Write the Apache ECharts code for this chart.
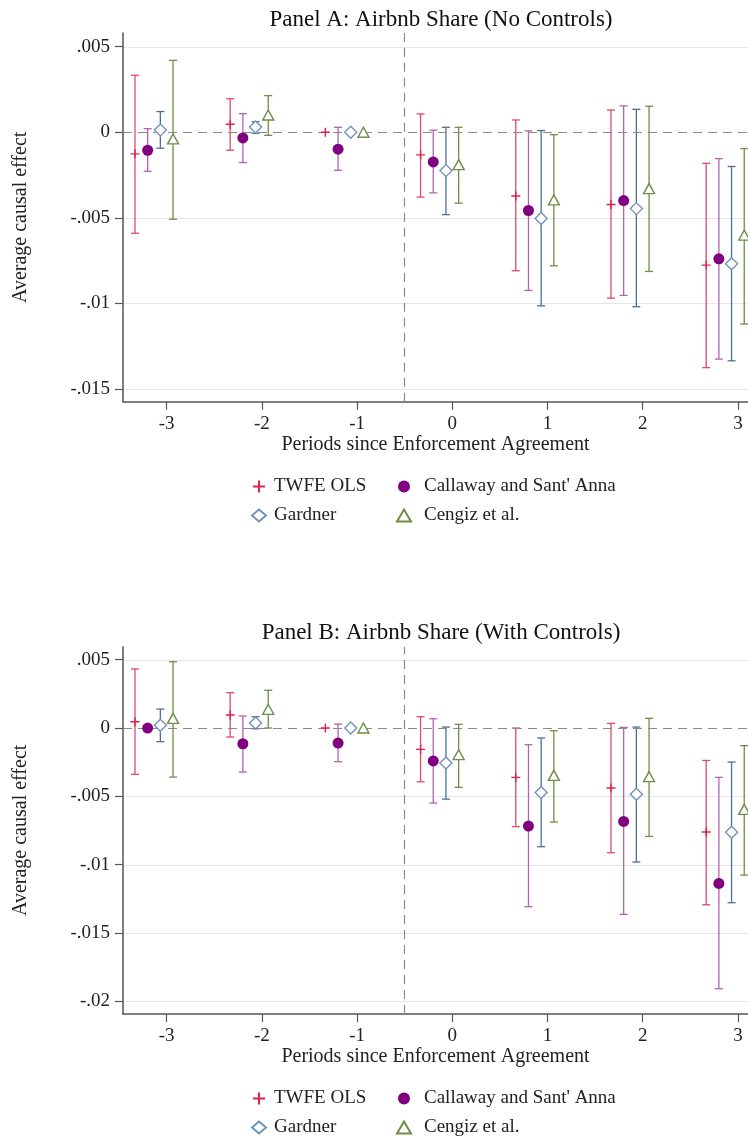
<!DOCTYPE html>
<html>
<head>
<meta charset="utf-8">
<script src="https://cdn.jsdelivr.net/npm/echarts@6/dist/echarts.min.js"></script>
<style>html,body{margin:0;padding:0;background:#fff}#c{width:748px;height:1137px}</style>
</head>
<body>
<div id="c"></div>
<script>
const periods = [-3, -2, -1, 0, 1, 2, 3];
const methods = ["TWFE OLS", "Callaway and Sant' Anna", "Gardner", "Cengiz et al."];
const yTicksA = [0.005, 0, -0.005, -0.01, -0.015];
const yTicksB = [0.005, 0, -0.005, -0.01, -0.015, -0.02];
const yTickLabels = {"0.005": ".005", "0": "0", "-0.005": "-.005", "-0.01": "-.01", "-0.015": "-.015", "-0.02": "-.02"};
const xTicks = [-3, -2, -1, 0, 1, 2, 3];

// Panel A
const A_twfe_est = [-0.00126, 0.00047, 0.00000, -0.00132, -0.00372, -0.00422, -0.00776];
const A_twfe_lo  = [-0.00590, -0.00105, null, -0.00379, -0.00809, -0.00969, -0.01375];
const A_twfe_hi  = [0.00333, 0.00196, null, 0.00107, 0.00072, 0.00130, -0.00181];
const A_cs_est   = [-0.00105, -0.00033, -0.00099, -0.00173, -0.00457, -0.00399, -0.00739];
const A_cs_lo    = [-0.00228, -0.00177, -0.00222, -0.00354, -0.00924, -0.00953, -0.01325];
const A_cs_hi    = [0.00021, 0.00109, 0.00029, 0.00012, 0.00008, 0.00154, -0.00154];
const A_gd_est   = [0.00014, 0.00031, 0.00000, -0.00224, -0.00504, -0.00446, -0.00768];
const A_gd_lo    = [-0.00093, -0.00006, null, -0.00481, -0.01014, -0.01019, -0.01335];
const A_gd_hi    = [0.00121, 0.00062, null, 0.00029, 0.00010, 0.00134, -0.00200];
const A_cg_est   = [-0.00039, 0.00101, 0.00000, -0.00189, -0.00395, -0.00329, -0.00601];
const A_cg_lo    = [-0.00508, -0.00018, null, -0.00414, -0.00780, -0.00813, -0.01120];
const A_cg_hi    = [0.00420, 0.00214, null, 0.00029, -0.00014, 0.00152, -0.00095];

// Panel B
const B_twfe_est = [0.00046, 0.00095, 0.00000, -0.00156, -0.00361, -0.00439, -0.00761];
const B_twfe_lo  = [-0.00339, -0.00066, null, -0.00393, -0.00722, -0.00912, -0.01293];
const B_twfe_hi  = [0.00432, 0.00259, null, 0.00083, 0.00000, 0.00034, -0.00237];
const B_cs_est   = [0.00000, -0.00115, -0.00110, -0.00241, -0.00717, -0.00683, -0.01137];
const B_cs_lo    = [null, -0.00322, -0.00246, -0.00549, -0.01307, -0.01363, -0.01907];
const B_cs_hi    = [null, 0.00088, 0.00029, 0.00068, -0.00122, 0.00005, -0.00361];
const B_gd_est   = [0.00020, 0.00037, 0.00000, -0.00256, -0.00471, -0.00485, -0.00763];
const B_gd_lo    = [-0.00100, -0.00005, null, -0.00520, -0.00868, -0.00980, -0.01278];
const B_gd_hi    = [0.00139, 0.00083, null, 0.00007, -0.00073, 0.00007, -0.00249];
const B_cg_est   = [0.00071, 0.00137, 0.00000, -0.00195, -0.00346, -0.00356, -0.00595];
const B_cg_lo    = [-0.00359, 0.00000, null, -0.00434, -0.00688, -0.00793, -0.01076];
const B_cg_hi    = [0.00485, 0.00276, null, 0.00027, -0.00020, 0.00071, -0.00129];

const panels = [
  {est: [A_twfe_est, A_cs_est, A_gd_est, A_cg_est], lo: [A_twfe_lo, A_cs_lo, A_gd_lo, A_cg_lo], hi: [A_twfe_hi, A_cs_hi, A_gd_hi, A_cg_hi], ticks: yTicksA},
  {est: [B_twfe_est, B_cs_est, B_gd_est, B_cg_est], lo: [B_twfe_lo, B_cs_lo, B_gd_lo, B_cg_lo], hi: [B_twfe_hi, B_cs_hi, B_gd_hi, B_cg_hi], ticks: yTicksB}
];

const dodge = [-1/3, -0.2, -1/15, 1/15];
const ciColors = ['#dc4a72', '#b462b4', '#4c7098', '#6e8f47'];
const FONT = 'Liberation Serif';

const markerStyles = [
  {symbol: 'path://M0,5H10M5,0V10', symbolSize: 9, itemStyle: {color: 'rgba(0,0,0,0)', borderColor: '#e0204e', borderWidth: 1.4, opacity: 1}},
  {symbol: 'circle', symbolSize: 11, itemStyle: {color: '#800080', borderWidth: 0, opacity: 1}},
  {symbol: 'diamond', symbolSize: [12, 12], itemStyle: {color: '#fff', borderColor: '#6f93b8', borderWidth: 1.4, opacity: 1}},
  {symbol: 'triangle', symbolSize: [11, 10], itemStyle: {color: '#fff', borderColor: '#6e8f47', borderWidth: 1.4, opacity: 1}}
];

const grids = [
  {left: 123, right: 0, top: 33, height: 368.7},
  {left: 123, right: 0, top: 646.7, height: 367.3}
];
const yRanges = [[-0.01574, 0.0058], [-0.02092, 0.00595]];
const xRange = [-3.459, 3.106];

const xAxes = [], yAxes = [], series = [];
panels.forEach((p, gi) => {
  xAxes.push({
    type: 'value', gridIndex: gi, min: xRange[0], max: xRange[1],
    name: 'Periods since Enforcement Agreement', nameLocation: 'middle', nameGap: 33,
    nameTextStyle: {fontFamily: FONT, fontSize: 20, color: '#222'},
    axisLine: {show: true, onZero: false, lineStyle: {color: '#555', width: 1.5}},
    axisTick: {show: true, length: 8, lineStyle: {color: '#555', width: 1.2}, customValues: xTicks},
    axisLabel: {customValues: xTicks, fontFamily: FONT, fontSize: 19, color: '#222', margin: 13, formatter: v => String(v)},
    splitLine: {show: false}
  });
  yAxes.push({
    type: 'value', gridIndex: gi, min: yRanges[gi][0], max: yRanges[gi][1],
    name: 'Average causal effect', nameLocation: 'middle', nameGap: 92,
    nameTextStyle: {fontFamily: FONT, fontSize: 20, color: '#222'},
    axisLine: {show: true, onZero: false, lineStyle: {color: '#555', width: 1.5}},
    axisTick: {show: true, length: 8, lineStyle: {color: '#555', width: 1.2}, customValues: p.ticks},
    axisLabel: {customValues: p.ticks, fontFamily: FONT, fontSize: 19, color: '#222', margin: 13,
      formatter: v => yTickLabels[String(Math.round(v * 1000) / 1000)] ?? String(v)},
    splitLine: {show: false}
  });

  // light horizontal gridlines at tick values
  series.push({
    type: 'custom', xAxisIndex: gi, yAxisIndex: gi, z: 1, silent: true, clip: false,
    data: p.ticks.filter(t => t !== 0).map(t => [xRange[0], t]),
    encode: {x: 0, y: 1},
    renderItem: (params, api) => {
      const cs = params.coordSys;
      const y = Math.round(api.coord([0, api.value(1)])[1]) + 0.5;
      return {type: 'line', shape: {x1: cs.x + 1, y1: y, x2: cs.x + cs.width, y2: y},
        style: {stroke: '#e6e6e6', lineWidth: 1}};
    }
  });
  // dashed reference lines
  series.push({
    type: 'line', xAxisIndex: gi, yAxisIndex: gi, data: [], silent: true, z: 2,
    markLine: {
      silent: true, symbol: 'none', animation: false, label: {show: false},
      data: [
        {yAxis: 0, lineStyle: {color: '#8a8a8a', width: 1.2, type: [9, 6]}},
        {xAxis: -0.5, lineStyle: {color: '#8a8a8a', width: 1.2, type: [9, 6]}}
      ]
    }
  });

  methods.forEach((m, mi) => {
    const ciData = [];
    periods.forEach((per, k) => {
      if (p.lo[mi][k] !== null && p.hi[mi][k] !== null) {
        ciData.push([per + dodge[mi], p.lo[mi][k], p.hi[mi][k]]);
      }
    });
    const col = ciColors[mi];
    series.push({
      type: 'custom', name: m + ' CI', xAxisIndex: gi, yAxisIndex: gi, z: 3,
      data: ciData, silent: true, clip: false,
      encode: {x: 0, y: [1, 2]},
      renderItem: (params, api) => {
        const x = api.value(0), lo = api.value(1), hi = api.value(2);
        const a = api.coord([x, hi]), b = api.coord([x, lo]);
        const w = 4;
        const st = {stroke: col, lineWidth: 1.3};
        return {type: 'group', children: [
          {type: 'line', shape: {x1: a[0], y1: a[1], x2: b[0], y2: b[1]}, style: st},
          {type: 'line', shape: {x1: a[0] - w, y1: a[1], x2: a[0] + w, y2: a[1]}, style: st},
          {type: 'line', shape: {x1: b[0] - w, y1: b[1], x2: b[0] + w, y2: b[1]}, style: st}
        ]};
      }
    });
    series.push(Object.assign({
      type: 'scatter', name: m, xAxisIndex: gi, yAxisIndex: gi, z: 5, clip: false,
      data: periods.map((per, k) => [per + dodge[mi], p.est[mi][k]])
    }, JSON.parse(JSON.stringify(markerStyles[mi]))));
  });
});

const legendText = {fontFamily: FONT, fontSize: 19, color: '#222'};
function mkLegend(left, top, names, padLeft) {
  return {
    orient: 'vertical', left: left, top: top, padding: 0, height: 70,
    itemWidth: 14, itemHeight: 12, itemGap: 10, selectedMode: false,
    data: names, textStyle: Object.assign({}, legendText, {padding: [0, 0, 0, padLeft]})
  };
}
const legends = [
  mkLegend(251, 477, ["TWFE OLS", "Gardner"], 3),
  mkLegend(396, 477, ["Callaway and Sant' Anna", "Cengiz et al."], 8),
  mkLegend(251, 1089, ["TWFE OLS", "Gardner"], 3),
  mkLegend(396, 1089, ["Callaway and Sant' Anna", "Cengiz et al."], 8)
];

const chart = echarts.init(document.getElementById('c'), null, {renderer: 'canvas'});
chart.setOption({
  animation: false,
  backgroundColor: '#fff',
  title: [
    {text: 'Panel A: Airbnb Share (No Controls)', left: 436, top: 3, textAlign: 'center',
     textStyle: {fontFamily: FONT, fontSize: 23, fontWeight: 'normal', color: '#111'}},
    {text: 'Panel B: Airbnb Share (With Controls)', left: 436, top: 616, textAlign: 'center',
     textStyle: {fontFamily: FONT, fontSize: 23, fontWeight: 'normal', color: '#111'}}
  ],
  grid: grids,
  xAxis: xAxes,
  yAxis: yAxes,
  legend: legends,
  series: series
});
</script>
</body>
</html>
